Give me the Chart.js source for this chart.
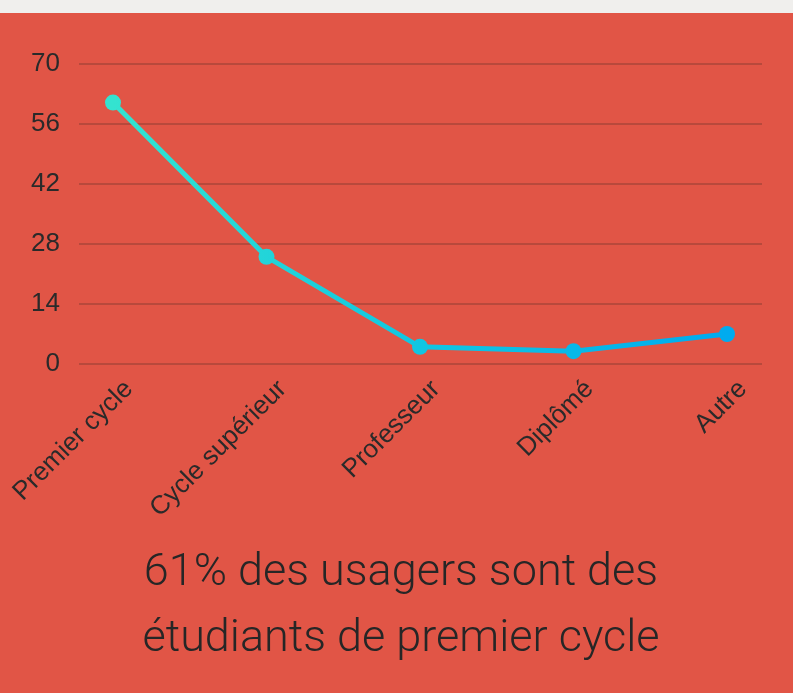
<!DOCTYPE html>
<html lang="fr">
<head>
<meta charset="utf-8">
<title>Usagers</title>
<script src="https://cdn.jsdelivr.net/npm/chart.js@4.4.1/dist/chart.umd.min.js"></script>
<style>
  html, body { margin: 0; padding: 0; }
  body { position: relative; width: 793px; height: 693px; background: #e15546; overflow: hidden; }
  .band { height: 13px; background: #f0efed; }
  canvas { display: block; }
  .caption {
    position: absolute; left: 9px; top: 537px; width: 784px;
    text-align: center; color: #262626;
    font-family: Roboto, 'Liberation Sans', sans-serif; font-weight: 300; font-size: 45px;
    line-height: 66px;
  }
</style>
</head>
<body>
<div class="band"></div>
<canvas id="usagersChart" width="793" height="680"></canvas>
<div class="caption" id="caption"></div>
<script>
// Data
const categories = ['Premier cycle', 'Cycle supérieur', 'Professeur', 'Diplômé', 'Autre'];
const percentages = [61, 25, 4, 3, 7];
const yTicks = [0, 14, 28, 42, 56, 70];
const caption = ['61% des usagers sont des', 'étudiants de premier cycle'];

const textColor = '#2a2a2a';
const gridColor = '#b8493c';
const tickFont = { family: "'Liberation Sans', Arial, sans-serif", size: 26 };

document.getElementById('caption').innerHTML = caption.join('<br>');

// horizontal gradient across the plot, turquoise to blue
function lineGradient(context) {
    const chart = context.chart;
    const area = chart.chartArea;
    if (!area) return '#1cc9df';
    const g = chart.ctx.createLinearGradient(area.left, 0, area.right, 0);
    g.addColorStop(0, '#34e3d0');
    g.addColorStop(0.5, '#10c6e2');
    g.addColorStop(1, '#00abef');
    return g;
}

// grid lines run a bit past the plot on both sides
const wideGrid = {
    id: 'wideGrid',
    beforeDatasetsDraw(chart) {
        const { ctx, chartArea } = chart;
        const y = chart.scales.y;
        ctx.save();
        ctx.strokeStyle = gridColor;
        ctx.lineWidth = 2;
        y.ticks.forEach(t => {
            const py = Math.round(y.getPixelForValue(t.value));
            ctx.beginPath();
            ctx.moveTo(chartArea.left - 34, py);
            ctx.lineTo(chartArea.right + 35, py);
            ctx.stroke();
        });
        ctx.restore();
    }
};

new Chart(document.getElementById('usagersChart'), {
    type: 'line',
    data: {
        labels: categories,
        datasets: [{
            data: percentages,
            borderColor: lineGradient,
            pointBackgroundColor: lineGradient,
            pointBorderWidth: 0,
            borderWidth: 5,
            pointRadius: 8,
            tension: 0,
            fill: false
        }]
    },
    options: {
        responsive: false,
        animation: false,
        layout: { padding: { top: 51, right: 66, left: 0, bottom: 0 } },
        plugins: {
            legend: { display: false },
            tooltip: { enabled: false }
        },
        scales: {
            x: {
                offset: false,
                grid: { display: false, drawTicks: false },
                border: { display: false },
                afterFit: s => {
                    s.height = 329;
                    s.paddingLeft = 0;
                    s.paddingRight = 0;
                },
                ticks: {
                    autoSkip: false,
                    maxRotation: 45,
                    minRotation: 45,
                    labelOffset: 16,
                    padding: 10,
                    color: textColor,
                    font: tickFont
                }
            },
            y: {
                min: 0,
                max: 70,
                grid: { display: false, drawTicks: false },
                border: { display: false },
                afterFit: s => {
                    s.width = 113;
                    s.paddingTop = 0;
                    s.paddingBottom = 0;
                },
                afterBuildTicks: s => { s.ticks = yTicks.map(v => ({ value: v })); },
                ticks: {
                    padding: 53,
                    color: textColor,
                    font: tickFont
                }
            }
        }
    },
    plugins: [wideGrid]
});
</script>
</body>
</html>
